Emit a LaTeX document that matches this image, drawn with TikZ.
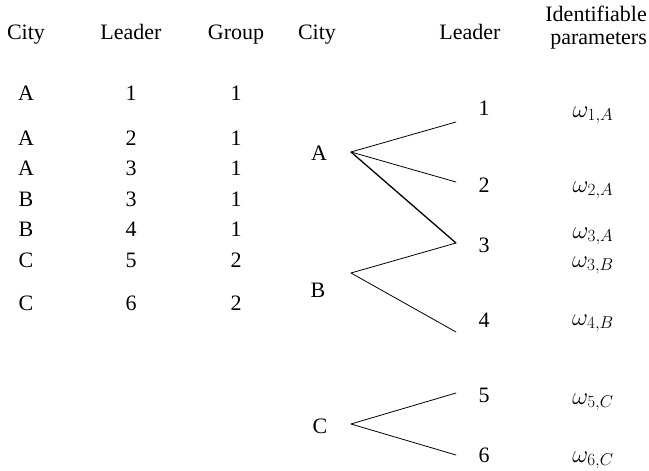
\RequirePackage{fix-cm}
\documentclass[tikz,border=0pt]{standalone}
\usepackage{fontspec}
\setmainfont{Liberation Serif}
\begin{document}
\begin{tikzpicture}[x=1pt,y=-1pt,
  txt/.style={anchor=base,inner sep=0pt,font=\fontsize{22}{26}\selectfont},
  hdr/.style={txt},
  param/.style={anchor=base,inner sep=0pt,font=\fontsize{24.5}{28}\selectfont},
  branch/.style={line width=0.8pt,line cap=round},
  thick branch/.style={line width=1.3pt,line cap=round}]
\useasboundingbox (0,0) rectangle (649,471);
% left table headers
\node[hdr] (h1) at (26,39) {City};
\node[hdr] (h2) at (131,39) {Leader};
\node[hdr] (h3) at (236,39) {Group};
% left table rows
\foreach \c/\l/\g/\y [count=\i] in {A/1/1/100, A/2/1/145, A/3/1/175, B/3/1/206, B/4/1/236, C/5/2/267, C/6/2/310}{
  \node[txt] (c\i) at (26,\y) {\c};
  \node[txt] (l\i) at (131,\y) {\l};
  \node[txt] (g\i) at (236,\y) {\g};
}
% right headers
\node[hdr] (h4) at (317,39) {City};
\node[hdr] (h5) at (470,39) {Leader};
\node[hdr,anchor=base east] (h6a) at (647,21) {Identifiable};
\node[hdr,anchor=base east] (h6b) at (647,45) {parameters};
% cities
\node[txt] (A) at (319,160) {A};
\node[txt] (B) at (318,297) {B};
\node[txt] (C) at (320,433) {C};
% leaders
\node[txt] (L1) at (484,115) {1};
\node[txt] (L2) at (484,192) {2};
\node[txt] (L3) at (484,252) {3};
\node[txt] (L4) at (484,327) {4};
\node[txt] (L5) at (484,402) {5};
\node[txt] (L6) at (484,462) {6};
% parameters
\node[param] (w1) at (593,117) {$\omega_{1,A}$};
\node[param] (w2) at (593,192) {$\omega_{2,A}$};
\node[param] (w3) at (593,238) {$\omega_{3,A}$};
\node[param] (w4) at (593,267) {$\omega_{3,B}$};
\node[param] (w5) at (593,325) {$\omega_{4,B}$};
\node[param] (w6) at (593,404) {$\omega_{5,C}$};
\node[param] (w7) at (593,462) {$\omega_{6,C}$};
% branch points
\coordinate (pA) at (351,152);
\coordinate (pB) at (351,273);
\coordinate (pC) at (351,424);
\coordinate (e1) at (456,122);
\coordinate (e2) at (456,182);
\coordinate (e3) at (456,243);
\coordinate (e4) at (456,332);
\coordinate (e5) at (456,393);
\coordinate (e6) at (456,455);
\draw[branch] (pA) -- (e1);
\draw[branch] (pA) -- (e2);
\draw[thick branch] (pA) -- (e3);
\draw[branch] (pB) -- (e3);
\draw[branch] (pB) -- (e4);
\draw[branch] (pC) -- (e5);
\draw[branch] (pC) -- (e6);
\end{tikzpicture}
\end{document}
